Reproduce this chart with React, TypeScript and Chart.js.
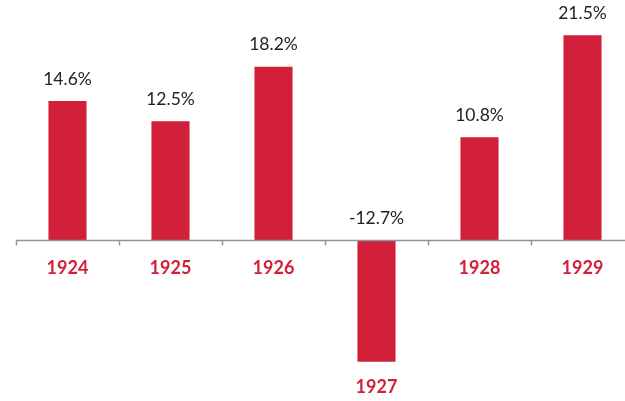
import React, { useEffect, useRef } from "react";
import { Chart, registerables } from "chart.js";

Chart.register(...registerables);

const categories = ["1924", "1925", "1926", "1927", "1928", "1929"];
const returns = [14.6, 12.5, 18.2, -12.7, 10.8, 21.5];
const valueLabels = ["14.6%", "12.5%", "18.2%", "-12.7%", "10.8%", "21.5%"];

const RED = "#D21F3A";
const AXIS = "#8C969E";

const labelPlugin = {
  id: "customLabels",
  afterDatasetsDraw(chart: any) {
    const ctx = chart.ctx;
    const meta = chart.getDatasetMeta(0);
    const yScale = chart.scales.y;
    const zeroY = yScale.getPixelForValue(0);
    const area = chart.chartArea;
    ctx.save();
    ctx.strokeStyle = AXIS;
    ctx.lineWidth = 1.5;
    ctx.beginPath();
    ctx.moveTo(area.left, zeroY);
    ctx.lineTo(chart.width, zeroY);
    ctx.stroke();
    const n = categories.length;
    const step = (area.right - area.left) / n;
    for (let i = 0; i <= n; i++) {
      const x = Math.round(area.left + i * step) + 0.5;
      ctx.beginPath();
      ctx.moveTo(x, zeroY);
      ctx.lineTo(x, zeroY + 5);
      ctx.stroke();
    }
    ctx.textAlign = "center";
    ctx.textBaseline = "middle";
    meta.data.forEach((bar: any, i: number) => {
      const v = returns[i];
      const x = bar.x;
      const topY = v >= 0 ? bar.y : zeroY;
      ctx.fillStyle = "#222222";
      ctx.font = "17.5px Lato, 'Open Sans', sans-serif";
      ctx.fillText(valueLabels[i], x, topY - 22);
      ctx.fillStyle = RED;
      ctx.font = "bold 18px Lato, 'Open Sans', sans-serif";
      const catY = v >= 0 ? zeroY + 27.5 : bar.y + 25;
      ctx.fillText(categories[i], x, catY);
    });
    ctx.restore();
  },
};

export default function App() {
  const ref = useRef<HTMLCanvasElement>(null);
  useEffect(() => {
    if (!ref.current) return;
    const chart = new Chart(ref.current, {
      type: "bar",
      data: {
        labels: categories,
        datasets: [
          {
            data: returns,
            backgroundColor: RED,
            borderWidth: 0,
            barPercentage: 0.37,
            categoryPercentage: 1,
          },
        ],
      },
      options: {
        responsive: false,
        animation: false,
        devicePixelRatio: 1,
        layout: { padding: { left: 16, right: 16, top: 11.3, bottom: 7.7 } },
        plugins: { legend: { display: false }, tooltip: { enabled: false } },
        scales: {
          x: { display: false },
          y: { display: false, min: -16, max: 24 },
        },
      },
      plugins: [labelPlugin],
    });
    return () => chart.destroy();
  }, []);
  return (
    <div
      style={{
        position: "absolute",
        left: 0,
        top: 0,
        width: 625,
        height: 401,
        overflow: "hidden",
        background: "#ffffff",
      }}
    >
      <canvas ref={ref} width={650} height={401} />
    </div>
  );
}
